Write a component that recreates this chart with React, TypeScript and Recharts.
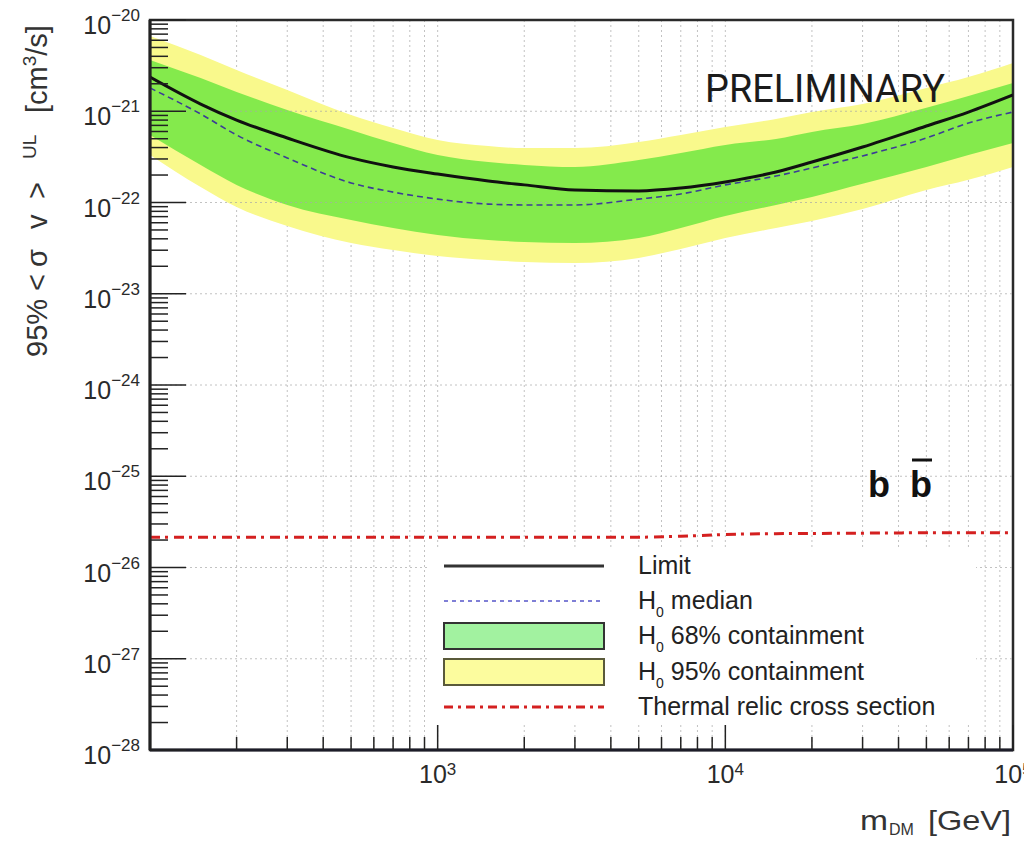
import { ComposedChart, Area, Line, XAxis, YAxis, CartesianGrid, ReferenceLine, ReferenceArea, Legend } from 'recharts';

// dark matter mass (GeV) sampled along the curves
const massGeV = [100, 150, 200, 300, 500, 700, 1000, 1500, 2000, 3000, 5000, 7000, 10000, 15000, 20000, 30000, 50000, 70000, 100000];

// 95% UL on <sigma v> (cm^3/s)
const limitUL = [2.37e-21, 1.2e-21, 8.0e-22, 5.09e-22, 3.08e-22, 2.45e-22, 2.05e-22, 1.72e-22, 1.56e-22, 1.37e-22, 1.34e-22, 1.44e-22, 1.68e-22, 2.16e-22, 2.78e-22, 4.06e-22, 6.89e-22, 9.8e-22, 1.51e-21];
const h0Median = [1.8e-21, 9.33e-22, 5.5e-22, 3.08e-22, 1.64e-22, 1.3e-22, 1.09e-22, 9.6e-23, 9.4e-23, 9.4e-23, 1.09e-22, 1.24e-22, 1.56e-22, 1.95e-22, 2.39e-22, 3.24e-22, 5.09e-22, 7.43e-22, 9.8e-22];
const band68Hi = [3.65e-21, 2.31e-21, 1.63e-21, 1.03e-21, 6.24e-22, 4.49e-22, 3.32e-22, 2.78e-22, 2.58e-22, 2.45e-22, 2.92e-22, 3.48e-22, 4.27e-22, 4.97e-22, 5.93e-22, 7.24e-22, 1.09e-21, 1.47e-21, 2.04e-21];
const band68Lo = [5.5e-22, 2.58e-22, 1.56e-22, 9.4e-23, 6.43e-23, 5.26e-23, 4.41e-23, 3.88e-23, 3.69e-23, 3.6e-23, 4.08e-23, 5.26e-23, 7.11e-23, 9.4e-23, 1.15e-22, 1.6e-22, 2.45e-22, 3.32e-22, 4.49e-22];
const band95Hi = [6.68e-21, 4.13e-21, 2.83e-21, 1.71e-21, 9.1e-22, 6.55e-22, 4.84e-22, 4.16e-22, 3.95e-22, 3.95e-22, 4.6e-22, 5.5e-22, 6.71e-22, 8.22e-22, 9.82e-22, 1.2e-21, 1.8e-21, 2.37e-21, 3.38e-21];
const band95Lo = [3.32e-22, 1.48e-22, 8.93e-23, 5.52e-23, 3.6e-23, 3.01e-23, 2.59e-23, 2.34e-23, 2.23e-23, 2.17e-23, 2.47e-23, 3.09e-23, 4.08e-23, 5.26e-23, 6.27e-23, 8.49e-23, 1.37e-22, 1.77e-22, 2.45e-22];
const thermalRelic = [2.15e-26, 2.15e-26, 2.15e-26, 2.15e-26, 2.15e-26, 2.15e-26, 2.15e-26, 2.15e-26, 2.15e-26, 2.15e-26, 2.15e-26, 2.2e-26, 2.3e-26, 2.35e-26, 2.36e-26, 2.38e-26, 2.4e-26, 2.4e-26, 2.4e-26];

// axes
const xDecades = [2, 3, 4, 5];
const yDecades = [-28, -27, -26, -25, -24, -23, -22, -21, -20];
const legendLabels = ['Limit', 'median', '68% containment', '95% containment', 'Thermal relic cross section'];

const xTicks: number[] = [];
xDecades.slice(0, -1).forEach((e) => {
    for (let k = 1; k <= 9; k++) xTicks.push(k * Math.pow(10, e));
});
xTicks.push(Math.pow(10, xDecades[xDecades.length - 1]));

const yTicks: number[] = [];
yDecades.slice(0, -1).forEach((e) => {
    for (let k = 1; k <= 9; k++) yTicks.push(k * Math.pow(10, e));
});
yTicks.push(Math.pow(10, yDecades[yDecades.length - 1]));

const data = massGeV.map((m, i) => ({
    m,
    limit: limitUL[i],
    median: h0Median[i],
    g68: [band68Lo[i], band68Hi[i]],
    y95: [band95Lo[i], band95Hi[i]],
    relic: thermalRelic[i],
}));

const FONT = "'Liberation Sans', Arial, Helvetica, sans-serif";
const W = 1032;
const H = 844;

const isDecade = (v: number) => {
    const e = Math.log10(v);
    return Math.abs(e - Math.round(e)) < 1e-6;
};

function XTick(props: any) {
    const { x, y, payload } = props;
    const v = payload.value;
    const major = isDecade(v);
    return (
        <g>
            <line x1={x} x2={x} y1={y} y2={y - (major ? 25 : 13)} stroke="#222" strokeWidth={1.5} />
            {major && v > 100 && (
                <text x={x} y={y + 33} textAnchor="middle" fill="#2a2a2a" fontFamily={FONT}>
                    <tspan fontSize={25}>10</tspan>
                    <tspan fontSize={17} dy={-8}>{Math.round(Math.log10(v))}</tspan>
                </text>
            )}
        </g>
    );
}

function YTick(props: any) {
    const { x, y, payload } = props;
    const v = payload.value;
    const major = isDecade(v);
    const e = Math.round(Math.log10(v));
    return (
        <g>
            <line x1={x} x2={x + (major ? 36 : 18)} y1={y} y2={y} stroke="#222" strokeWidth={1.5} />
            {major && (
                <text x={x - 10} y={y + 14} textAnchor="end" fill="#2a2a2a" fontFamily={FONT}>
                    <tspan fontSize={25}>10</tspan>
                    <tspan fontSize={17} dy={-13}>{'\u2212' + Math.abs(e)}</tspan>
                </text>
            )}
        </g>
    );
}

function H0Label({ x, y, text }: { x: number; y: number; text: string }) {
    return (
        <text x={x} y={y} fontSize={25} fill="#222" fontFamily={FONT}>
            H<tspan fontSize={14} dy={8}>0</tspan>
            <tspan dy={-8}>{' ' + text}</tspan>
        </text>
    );
}

function LegendBox() {
    const tx = 210;
    return (
        <div style={{ width: 548, height: 172, background: '#fff' }}>
            <svg width={548} height={172}>
                <line x1={16} x2={176} y1={16} y2={16} stroke="#333" strokeWidth={3} />
                <text x={tx} y={24} fontSize={25} fill="#222" fontFamily={FONT}>{legendLabels[0]}</text>

                <line x1={16} x2={176} y1={51} y2={51} stroke="#7f7fd6" strokeWidth={2} strokeDasharray="4 4" />
                <H0Label x={tx} y={59} text={legendLabels[1]} />

                <rect x={16} y={73} width={160} height={26} fill="#a2f2a0" stroke="#333" strokeWidth={2} />
                <H0Label x={tx} y={94} text={legendLabels[2]} />

                <rect x={16} y={109} width={160} height={26} fill="#fcfc9e" stroke="#5a5a3a" strokeWidth={2} />
                <H0Label x={tx} y={130} text={legendLabels[3]} />

                <line x1={16} x2={176} y1={157} y2={157} stroke="#d42020" strokeWidth={3} strokeDasharray="9 5 3 5" />
                <text x={tx} y={165} fontSize={25} fill="#222" fontFamily={FONT}>{legendLabels[4]}</text>
            </svg>
        </div>
    );
}

export default function App() {
    return (
        <div style={{ position: 'relative', width: W, height: H, margin: '-8px 0 -8px -8px', background: '#fff' }}>
            <ComposedChart width={W} height={H} data={data} margin={{ top: 20, right: 19, bottom: 0, left: 0 }}>
                <XAxis
                    dataKey="m"
                    type="number"
                    scale="log"
                    domain={[100, 100000]}
                    ticks={xTicks}
                    interval={0}
                    tick={(p: any) => <XTick {...p} />}
                    tickLine={false}
                    tickSize={0}
                    tickMargin={0}
                    axisLine={{ stroke: '#1c1c28', strokeWidth: 3 }}
                    height={94}
                    allowDataOverflow
                />
                <YAxis
                    type="number"
                    scale="log"
                    domain={[1e-28, 1e-20]}
                    ticks={yTicks}
                    interval={0}
                    tick={(p: any) => <YTick {...p} />}
                    tickLine={false}
                    tickSize={0}
                    tickMargin={0}
                    axisLine={{ stroke: '#222', strokeWidth: 3 }}
                    width={150}
                    allowDataOverflow
                />
                <Area type="monotone" dataKey="y95" stroke="none" fill="#f9f98c" fillOpacity={1} isAnimationActive={false} />
                <Area type="monotone" dataKey="g68" stroke="none" fill="#84ea4c" fillOpacity={1} isAnimationActive={false} />
                <CartesianGrid horizontal={false} stroke="#a8a8a8" strokeOpacity={0.7} strokeDasharray="2 3" />
                {yDecades.slice(1, -1).map((e) => (
                    <ReferenceLine key={e} y={Math.pow(10, e)} stroke="#a8a8a8" strokeOpacity={0.7} strokeDasharray="2 3" />
                ))}
                <Line type="monotone" dataKey="median" stroke="#3c3c96" strokeWidth={1.6} strokeDasharray="6 4" dot={false} isAnimationActive={false} />
                <Line type="monotone" dataKey="limit" stroke="#111" strokeWidth={3} dot={false} isAnimationActive={false} />
                <Line type="monotone" dataKey="relic" stroke="#d42020" strokeWidth={3} strokeDasharray="10 5 3 6" dot={false} isAnimationActive={false} />
                <ReferenceArea x1={100} x2={100000} y1={1e-28} y2={1e-20} fill="none" stroke="#2a2a2a" strokeWidth={2.5} />
                <Legend
                    verticalAlign="middle"
                    align="center"
                    wrapperStyle={{ left: 428, top: 550, width: 548, height: 172 }}
                    content={() => <LegendBox />}
                />
            </ComposedChart>
            <svg width={W} height={H} style={{ position: 'absolute', left: 0, top: 0, pointerEvents: 'none' }}>
                <text transform="translate(47, 357) rotate(-90)" fontSize={29} fill="#333" fontFamily={FONT}>
                    <tspan x={0}>95%</tspan>
                    <tspan x={66}>&lt;</tspan>
                    <tspan x={90}>σ</tspan>
                    <tspan x={128}>v</tspan>
                    <tspan x={158}>&gt;</tspan>
                    <tspan x={198} dy={-11} fontSize={19}>UL</tspan>
                    <tspan x={244} dy={11}>[cm</tspan>
                    <tspan dy={-11} fontSize={19}>3</tspan>
                    <tspan dy={11}>/s]</tspan>
                </text>
                <text x={860} y={830} fontSize={28} fill="#333" fontFamily={FONT}>
                    <tspan textLength={28} lengthAdjust="spacingAndGlyphs">m</tspan>
                    <tspan x={889} dy={5} fontSize={16}>DM</tspan>
                    <tspan x={928} dy={-5} textLength={83} lengthAdjust="spacingAndGlyphs">[GeV]</tspan>
                </text>
                <text x={705} y={102} fontSize={38} fill="#1b1b1b" fontFamily="Roboto, sans-serif" textLength={240} lengthAdjust="spacingAndGlyphs">
                    PRELIMINARY
                </text>
                <text x={868} y={497} fontSize={36} fontWeight="bold" fill="#111" fontFamily={FONT}>b</text>
                <text x={910} y={497} fontSize={36} fontWeight="bold" fill="#111" fontFamily={FONT}>b</text>
                <line x1={912} x2={932} y1={460} y2={460} stroke="#111" strokeWidth={3} />
            </svg>
        </div>
    );
}
